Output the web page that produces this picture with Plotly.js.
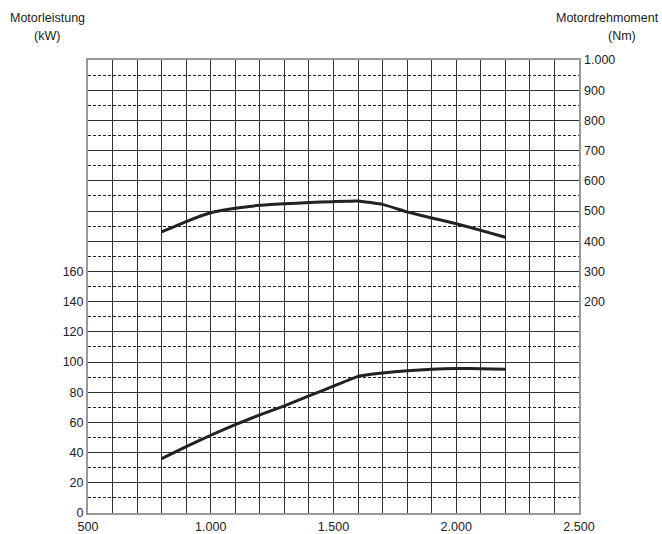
<!DOCTYPE html>
<html>
<head>
<meta charset="utf-8">
<script src="https://cdn.plot.ly/plotly-3.0.1.min.js"></script>
<style>html,body{margin:0;padding:0;background:#fff;}#chart{width:662px;height:534px;}</style>
</head>
<body>
<div id="chart"></div>
<script>
// Engine speed (rpm)
const rpm = [800, 900, 1000, 1100, 1200, 1300, 1400, 1500, 1600, 1700, 1800, 1900, 2000, 2100, 2200];
// Motorleistung (kW)
const powerKW = [36, 44, 51.5, 58.5, 65, 71, 77.5, 84, 90.5, 92.7, 94.2, 95.2, 95.7, 95.6, 95.2];
// Motordrehmoment (Nm)
const torqueNm = [431, 465, 494, 509, 519, 524, 528, 531, 533, 522, 497, 477, 458, 436, 413];

// Axis tick values / labels
const xTickVals = [];
for (let v = 500; v <= 2500; v += 100) xTickVals.push(v);
const xTickText = xTickVals.map(v => v % 500 === 0 ? (v >= 1000 ? (v/1000).toFixed(3) : String(v)) : '');
const yTickVals = [];
for (let v = 0; v <= 300; v += 20) yTickVals.push(v);
const yTickText = yTickVals.map(v => v <= 160 ? String(v) : '');
const y2TickVals = [200, 300, 400, 500, 600, 700, 800, 900, 1000];
const y2TickText = ['200', '300', '400', '500', '600', '700', '800', '900', '1.000'];

const lineStyle = {color: '#222', width: 3, shape: 'spline', smoothing: 0.3};
const traces = [
  {x: rpm, y: powerKW, type: 'scatter', mode: 'lines', line: lineStyle, yaxis: 'y', hoverinfo: 'skip'},
  {x: rpm, y: torqueNm, type: 'scatter', mode: 'lines', line: lineStyle, yaxis: 'y2', hoverinfo: 'skip'}
];

const font = {family: 'Liberation Sans, Arial, sans-serif', size: 12.5, color: '#222'};
const layout = {
  width: 662, height: 534,
  margin: {l: 88, r: 83, t: 60, b: 21},
  paper_bgcolor: '#fff', plot_bgcolor: '#fff',
  font: font,
  showlegend: false,
  xaxis: {
    range: [500, 2500], tickmode: 'array', tickvals: xTickVals, ticktext: xTickText,
    showgrid: true, gridcolor: '#333', gridwidth: 1,
    zeroline: false, showline: true, linecolor: '#999', linewidth: 2, mirror: true,
    ticks: '', tickfont: font, ticklabelstandoff: 1
  },
  yaxis: {
    range: [0, 300], tickmode: 'array', tickvals: yTickVals, ticktext: yTickText,
    showgrid: true, gridcolor: '#333', gridwidth: 1,
    minor: {tickmode: 'linear', tick0: 0, dtick: 10, showgrid: true, gridcolor: '#222', gridwidth: 1, griddash: '3px,2px'},
    zeroline: false, showline: true, linecolor: '#999', linewidth: 2, mirror: true,
    ticks: '', tickfont: font
  },
  yaxis2: {
    range: [-500, 1000], overlaying: 'y', side: 'right',
    tickmode: 'array', tickvals: y2TickVals, ticktext: y2TickText,
    showgrid: false, zeroline: false, showline: false, ticks: '', tickfont: font,
    ticklabelstandoff: 4
  },
  annotations: [
    {xref: 'paper', yref: 'paper', x: (47 - 88) / 491, y: 1.0, xanchor: 'center', yanchor: 'bottom', yshift: 33,
     text: 'Motorleistung', showarrow: false, font: font},
    {xref: 'paper', yref: 'paper', x: (47 - 88) / 491, y: 1.0, xanchor: 'center', yanchor: 'bottom', yshift: 15,
     text: '(kW)', showarrow: false, font: font},
    {xref: 'paper', yref: 'paper', x: (661 - 88) / 491, y: 1.0, xanchor: 'right', yanchor: 'bottom', yshift: 33,
     text: 'Motordrehmoment', showarrow: false, font: font},
    {xref: 'paper', yref: 'paper', x: (622 - 88) / 491, y: 1.0, xanchor: 'center', yanchor: 'bottom', yshift: 15,
     text: '(Nm)', showarrow: false, font: font}
  ]
};

Plotly.newPlot('chart', traces, layout, {staticPlot: true, displayModeBar: false});
</script>
</body>
</html>
